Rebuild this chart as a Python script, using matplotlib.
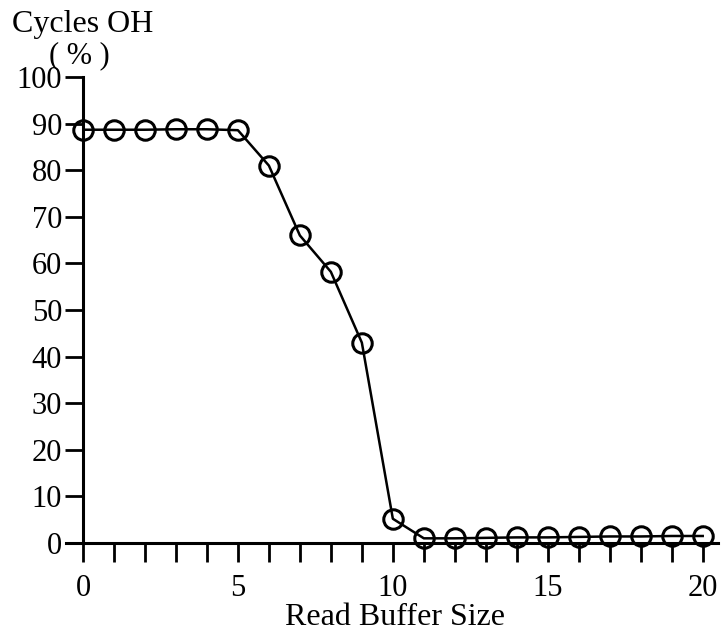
import matplotlib.pyplot as plt
import numpy as np

plt.rcParams['font.family'] = ['Liberation Serif', 'DejaVu Serif']

# data
buffer_size = [0, 1, 2, 3, 4, 5, 6, 7, 8, 9, 10, 11, 12, 13, 14, 15, 16, 17, 18, 19, 20]
cycles_oh = [88.7, 88.7, 88.7, 88.8, 88.8, 88.6, 81.0, 66.0, 58.2, 43.0, 5.2,
             1.0, 1.0, 1.1, 1.2, 1.2, 1.3, 1.4, 1.4, 1.5, 1.5]
x_ticks = list(range(0, 21))
x_labels = ["0", "", "", "", "", "5", "", "", "", "", "10", "", "", "", "", "15", "", "", "", "", "20"]
y_ticks = list(range(0, 101, 10))

fig = plt.figure(figsize=(7.24, 6.37), dpi=100)
ax = fig.add_axes([0.1146, 0.1476, 0.8774, 0.7314])

ax.plot(buffer_size, cycles_oh, "-", color="black", lw=1.8, zorder=2)
ax.plot(buffer_size, cycles_oh, "o", mfc="none", mec="black", ms=14, mew=2.2, clip_on=False, zorder=3)

ax.set_xlim(0, 20.5)
ax.set_ylim(0, 100)
ax.spines["top"].set_visible(False)
ax.spines["right"].set_visible(False)
ax.spines["left"].set_linewidth(2.2)
ax.spines["bottom"].set_linewidth(2.2)
ax.spines["bottom"].set_bounds(-0.55, 20.5)

ax.set_xticks(x_ticks)
ax.set_xticklabels(x_labels)
ax.set_yticks(y_ticks)
ax.tick_params(axis="x", direction="out", length=14, width=2, labelsize=22, pad=8)
ax.tick_params(axis="y", direction="out", length=13, width=2, labelsize=22, pad=2)

fig.text(0.016, 0.985, "Cycles OH", fontsize=23, ha="left", va="top")
fig.text(0.11, 0.935, "( % )", fontsize=22, ha="center", va="top")
fig.text(0.545, 0.008, "Read Buffer Size", fontsize=23, ha="center", va="bottom")

fig.savefig("out.png", dpi=100)
